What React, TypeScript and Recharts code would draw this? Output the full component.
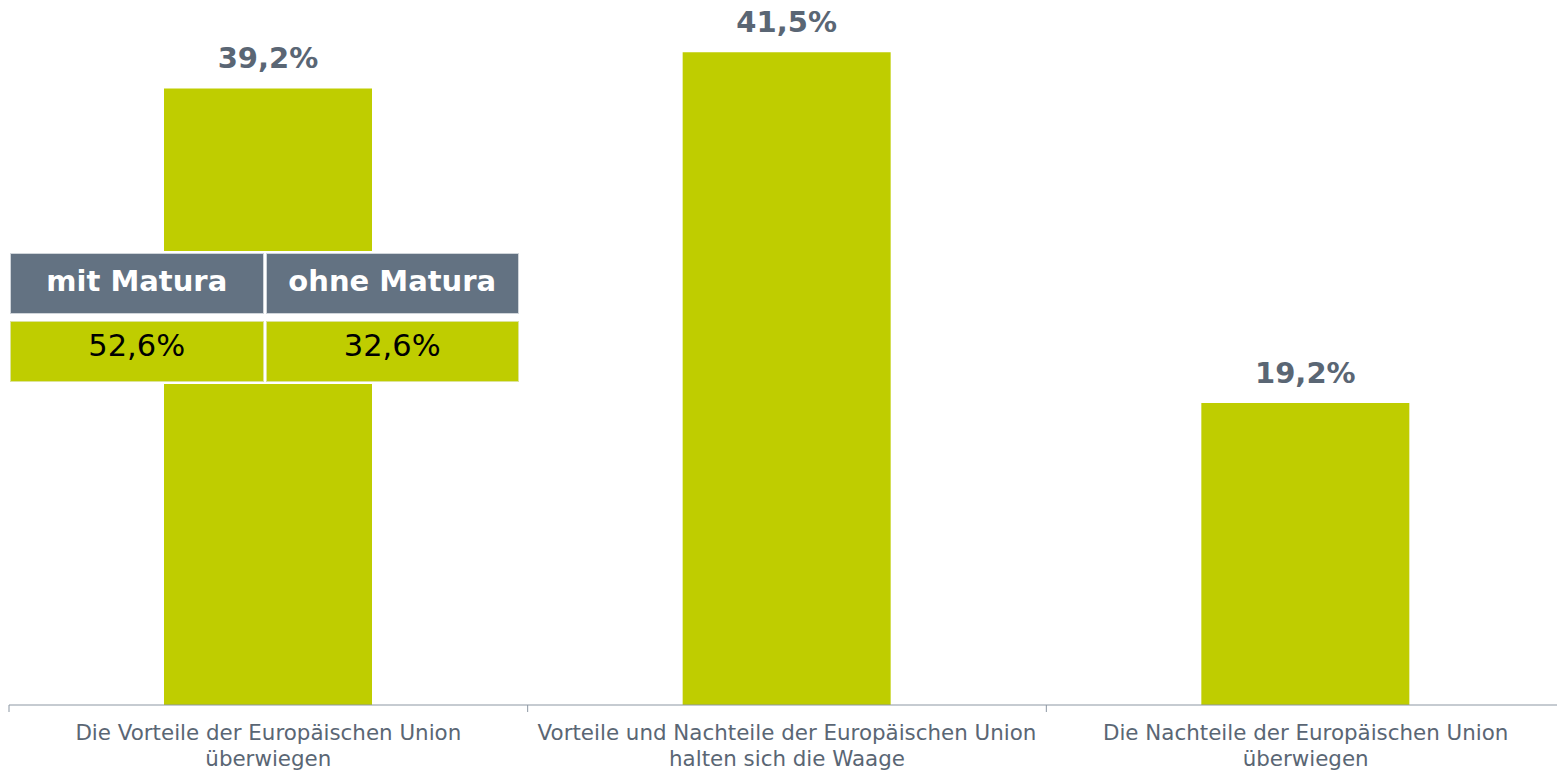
import { BarChart, Bar, XAxis, YAxis, LabelList } from 'recharts';

const categories = [
  'Die Vorteile der Europäischen Union\nüberwiegen',
  'Vorteile und Nachteile der Europäischen Union\nhalten sich die Waage',
  'Die Nachteile der Europäischen Union\nüberwiegen',
];
const shares = [39.2, 41.5, 19.2];

const tableHeaders = ['mit Matura', 'ohne Matura'];
const tableValues = ['52,6%', '32,6%'];

const WIDTH = 1566;
const HEIGHT = 771;
const MARGIN = { top: 13, right: 1, bottom: 36, left: 9 };
const BAND = (WIDTH - MARGIN.left - MARGIN.right) / categories.length;

const GREEN = '#BFCD00';
const SLATE = '#637282';
const TEXT = '#5A6674';
const FONT = '"DejaVu Sans", Verdana, sans-serif';

const data = categories.map((name, i) => ({ name, value: shares[i] }));

const fmt = (v: number) => v.toFixed(1).replace('.', ',') + '%';

function CategoryTick(props: any) {
  const { x, y, payload } = props;
  const lines = String(payload.value).split('\n');
  const left = x - BAND / 2;
  return (
    <g>
      <line x1={left} y1={y - 8} x2={left} y2={y - 1} stroke="#8C97A3" strokeWidth={1} />
      <text x={x} y={y + 27} textAnchor="middle" fill={TEXT} fontSize={21.4} fontFamily={FONT}>
        {lines.map((l, i) => (
          <tspan key={i} x={x} dy={i === 0 ? 0 : 26}>
            {l}
          </tspan>
        ))}
      </text>
    </g>
  );
}

export default function App() {
  return (
    <div
      style={{
        position: 'absolute',
        left: 0,
        top: 0,
        width: 1557,
        height: 771,
        overflow: 'hidden',
        background: '#fff',
        fontFamily: FONT,
      }}
    >
      <BarChart width={WIDTH} height={HEIGHT} data={data} margin={MARGIN}>
        <XAxis
          dataKey="name"
          axisLine={{ stroke: '#8C97A3' }}
          tickLine={false}
          tick={<CategoryTick />}
          interval={0}
          height={30}
        />
        <YAxis hide domain={[0, 44]} />
        <Bar dataKey="value" fill={GREEN} barSize={208} isAnimationActive={false}>
          <LabelList
            dataKey="value"
            position="top"
            offset={20}
            formatter={(v: any) => fmt(Number(v))}
            fill={TEXT}
            fontSize={29}
            fontWeight="bold"
            fontFamily={FONT}
          />
        </Bar>
      </BarChart>
      <div
        style={{
          position: 'absolute',
          left: 8,
          top: 251,
          width: 513,
          padding: 2,
          boxSizing: 'border-box',
          background: '#fff',
          display: 'grid',
          gridTemplateColumns: '1fr 1fr',
          columnGap: 2,
          rowGap: 7,
        }}
      >
        {tableHeaders.map((h) => (
          <div
            key={h}
            style={{
              background: SLATE,
              color: '#fff',
              fontWeight: 'bold',
              fontSize: 29,
              height: 61,
              lineHeight: '55px',
              textAlign: 'center',
              boxSizing: 'border-box',
              border: '1px solid #D0D5DA',
            }}
          >
            {h}
          </div>
        ))}
        {tableValues.map((v, i) => (
          <div
            key={i}
            style={{
              background: GREEN,
              color: '#000',
              fontSize: 30.5,
              height: 61,
              lineHeight: '47px',
              textAlign: 'center',
              boxSizing: 'border-box',
              border: '1px solid #DCE39A',
            }}
          >
            {v}
          </div>
        ))}
      </div>
    </div>
  );
}
